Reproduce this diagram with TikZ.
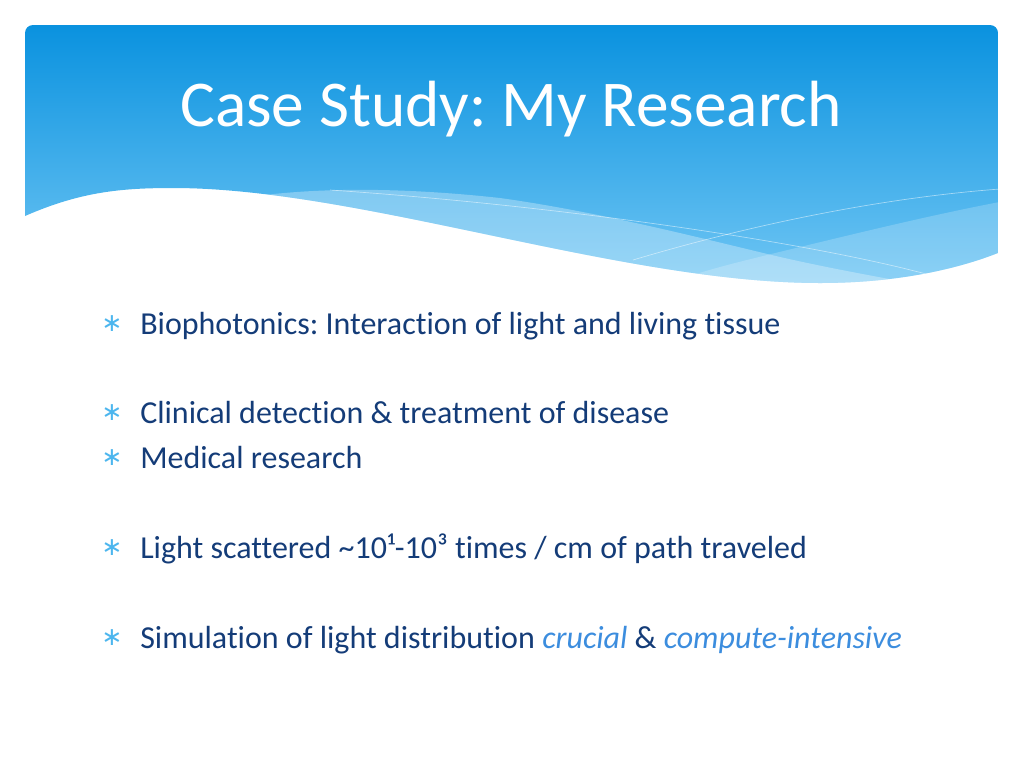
\documentclass[tikz,border=0pt]{standalone}
\usepackage{fontspec}
\usepackage{xcolor}
\setmainfont{Carlito}[Ligatures=NoCommon]
\newfontfamily\symfont{DejaVu Sans}
\usetikzlibrary{positioning, calc}
\frenchspacing
\definecolor{SkyTop}{HTML}{0A92DF}
\definecolor{SkyLow}{HTML}{70C6F4}
\definecolor{InkNavy}{HTML}{143C78}
\definecolor{AccentBlue}{HTML}{3C8DDE}
\definecolor{StarBlue}{HTML}{4DB6EE}
\newcommand{\hilite}[1]{\textcolor{AccentBlue}{\itshape #1}}

\begin{document}
\begin{tikzpicture}[x=0.75pt, y=-0.75pt,
    item/.style={anchor=base west, inner sep=0pt, text=InkNavy,
                 font=\fontsize{24}{29}\selectfont},
    star/.style={inner sep=0pt, text=StarBlue,
                 font=\symfont\fontsize{19}{19}\selectfont},
    glint/.style={white, opacity=0.5, line width=0.5pt}]
\useasboundingbox (0,0) rectangle (1024,768);

% header band with its wave
\begin{scope}
  \clip[rounded corners=6pt] (25,25) rectangle (998,400);
  \clip (25,216) -- (25,0) -- (998,0) -- (998,253)
        .. controls (960,268) and (900,283) .. (820,283)
        .. controls (620,283) and (360,188) .. (173,188)
        .. controls (120,188) and (80,192) .. (25,216) -- cycle;
  \shade[top color=SkyTop, bottom color=SkyLow] (25,25) rectangle (998,285);
  \fill[white, opacity=0.3] (220,202) .. controls (300,186) and (400,187) .. (500,198)
        .. controls (600,212) and (700,238) .. (780,257)
        .. controls (850,273) and (950,290) .. (1010,300) -- (1010,320) -- (220,320) -- cycle;
  \fill[white, opacity=0.2] (620,300) .. controls (700,270) and (740,262) .. (767,255)
        .. controls (850,235) and (930,215) .. (1010,200) -- (1010,320) -- cycle;
  \draw[glint] (330,190) .. controls (550,205) and (800,240) .. (930,275);
  \draw[glint] (633,260) .. controls (750,225) and (880,198) .. (1000,189);
\end{scope}

\node[text=white, anchor=base, inner sep=0pt,
      font=\fontsize{49}{58}\selectfont] (title) at (511,126) {Case Study: My Research};

% bullet list
\node[item] (bio) at (140,334) {Biophotonics: Interaction of light and living tissue};
\node[item] (clinic) at (140,423) {Clinical detection \& treatment of disease};
\node[item] (med) at (140,468) {Medical research};
\node[item] (scatter) at (140,558) {Light scattered \textasciitilde10¹-10³ times / cm of path traveled};
\node[item] (sim) at (140,648) {Simulation of light distribution \hilite{crucial} \& \hilite{compute-intensive}};
\foreach \n in {bio,clinic,med,scatter,sim}
  \node[star] (star-\n) at ([shift={(-28,-10)}]\n.base west) {∗};
\end{tikzpicture}
\end{document}
